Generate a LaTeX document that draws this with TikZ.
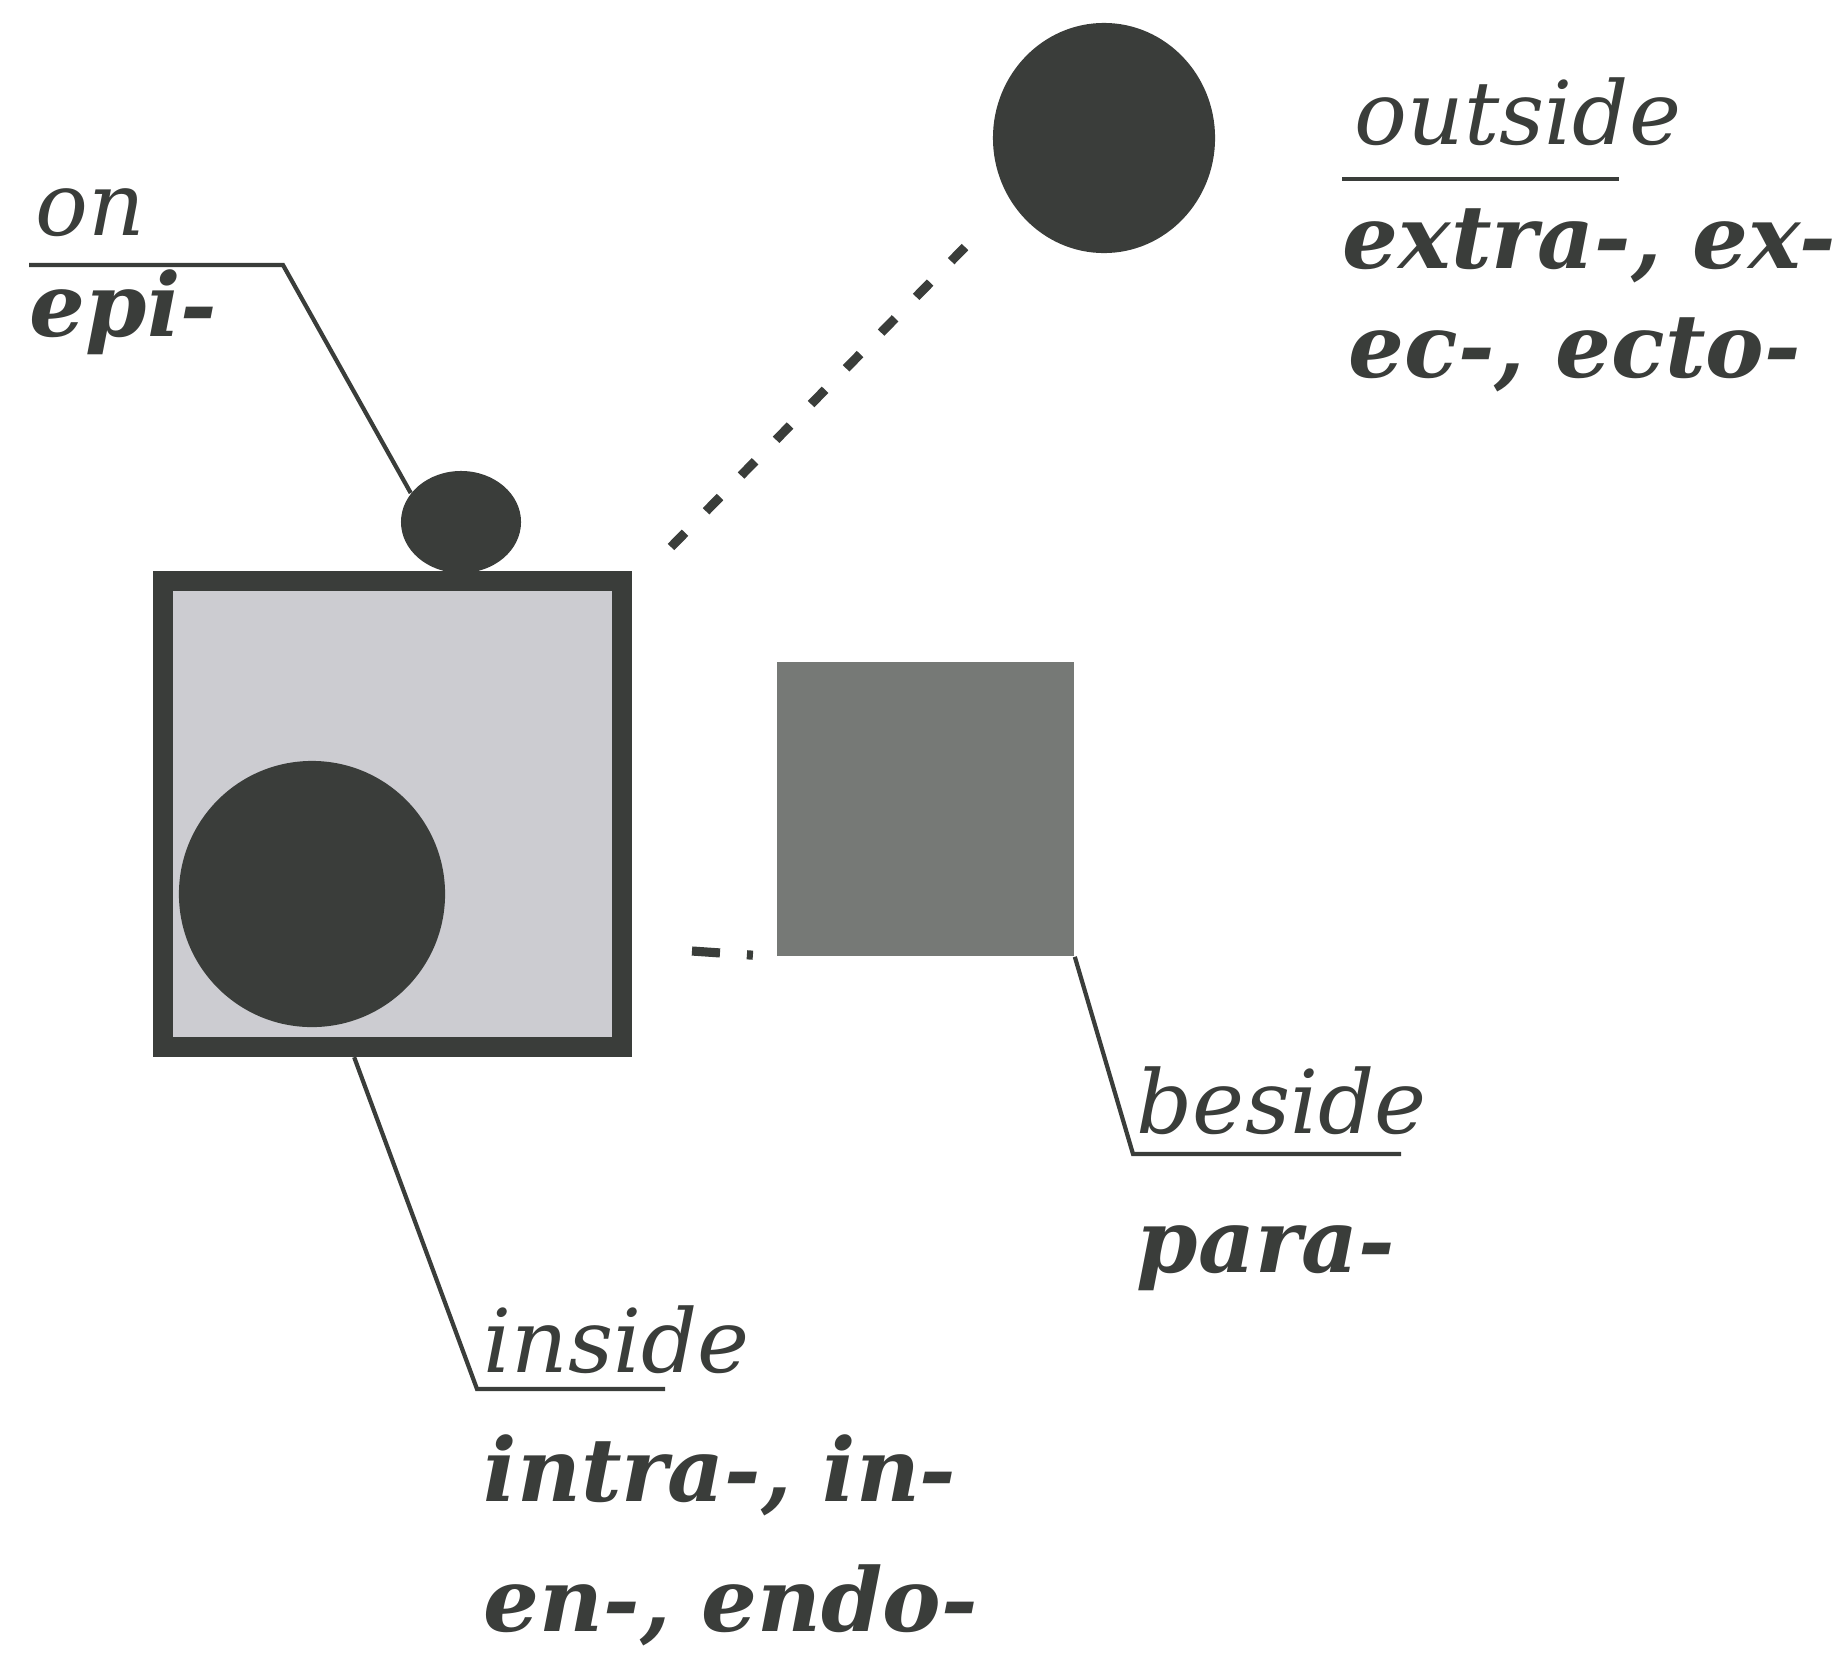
\documentclass[tikz,border=0pt]{standalone}
\usepackage{fontspec}
\setmainfont{DejaVu Serif}
\usetikzlibrary{shapes.geometric,calc}

\definecolor{inkgray}{RGB}{58,61,58}
\definecolor{midgray}{RGB}{118,121,118}
\definecolor{palegray}{RGB}{204,204,209}

\begin{document}
\begin{tikzpicture}[x=0.01cm, y=-0.01cm,
    affix/.style={anchor=base west, inner sep=0pt, text=inkgray,
        font=\fontsize{25}{30}\selectfont\bfseries\itshape},
    sense/.style={anchor=base west, inner sep=0pt, text=inkgray,
        font=\fontsize{25}{30}\selectfont\itshape},
    leader/.style={draw=inkgray, line width=1.2pt},
    gapline/.style={draw=inkgray, line width=2.6pt}]
    \useasboundingbox (0,0) rectangle (1846,1660);

    % --- The framed box and what sits in/on it ---
    \node[draw=inkgray, line width=0.2cm, fill=palegray, inner sep=0pt,
        minimum width=4.59cm, minimum height=4.66cm] (house) at (392.5,814) {};
    \node[circle, fill=inkgray, inner sep=0pt, minimum size=2.66cm] (inball) at (312,894) {};
    \node[ellipse, fill=inkgray, inner sep=0pt,
        minimum width=1.2cm, minimum height=1.02cm] (onball) at (461,522) {};

    % --- Outside ball and beside box ---
    \node[ellipse, fill=inkgray, inner sep=0pt,
        minimum width=2.22cm, minimum height=2.3cm] (outball) at (1104,138) {};
    \node[fill=midgray, inner sep=0pt,
        minimum width=2.97cm, minimum height=2.94cm] (besidebox) at (925.5,809) {};

    % --- Labels ---
    \node[sense] (on) at (35,235) {on};
    \node[affix] (epi) at (29,336) {epi-};
    \node[sense] (outside) at (1354,144) {outside};
    \node[affix] (extra) at (1342,268) {extra-, ex-};
    \node[affix] (ecto) at (1348,377) {ec-, ecto-};
    \node[sense] (beside) at (1136,1133) {beside};
    \node[affix] (para) at (1136,1272) {para-};
    \node[sense] (inside) at (483,1372) {inside};
    \node[affix] (intra) at (483,1501) {intra-, in-};
    \node[affix] (endo) at (483,1631) {en-, endo-};

    % --- Leader lines with underlines ---
    \coordinate (onstart) at (29,265);
    \coordinate (onbend) at (283,265);
    \draw[leader] (onstart) -- (onbend) -- (onball.150);

    \coordinate (outstart) at (1342,179);
    \coordinate (outend) at (1619,179);
    \draw[leader] (outstart) -- (outend);

    \coordinate (inbend) at (477,1389);
    \coordinate (inend) at (665,1389);
    \draw[leader] ($(house.south west)!0.42!(house.south east)$) -- (inbend) -- (inend);

    \coordinate (besbend) at (1133,1154);
    \coordinate (besend) at (1401,1154);
    \draw[leader] (besidebox.south east) -- (besbend) -- (besend);

    % --- Dashed gaps ---
    \coordinate (gapfrom) at (671,547);
    \coordinate (gapto) at (965,247);
    \draw[gapline, dash pattern=on 0.2cm off 0.3cm] (gapfrom) -- (gapto);
    \coordinate (besstart) at (692,951);
    \draw[gapline, dash pattern=on 0.28cm off 0.27cm on 0.06cm off 0.3cm] (besstart) -- (besidebox.south west);
\end{tikzpicture}
\end{document}
